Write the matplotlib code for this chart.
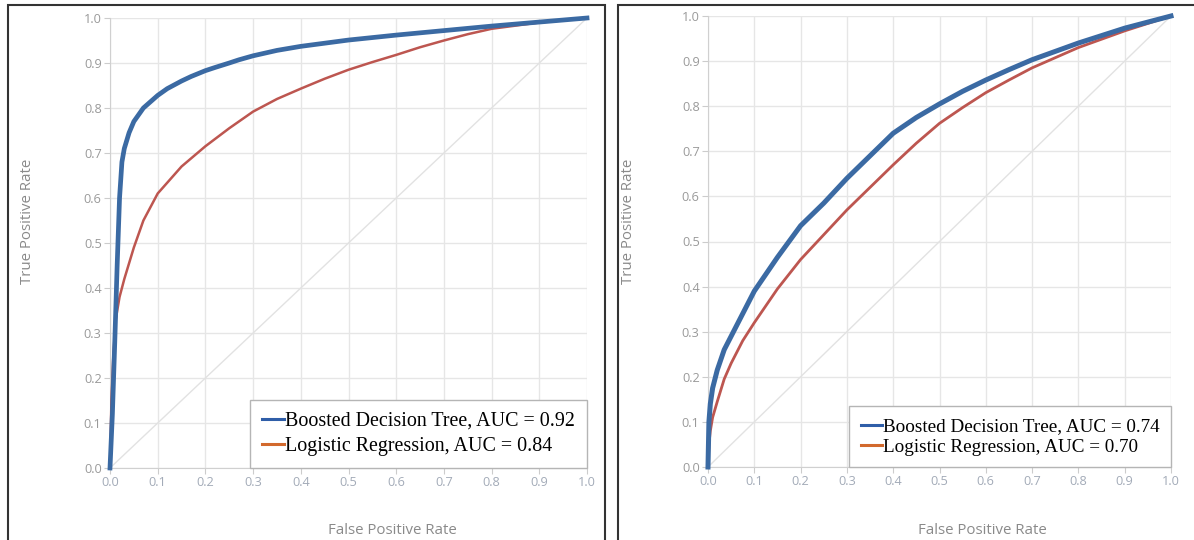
import matplotlib.pyplot as plt
from matplotlib.patches import Rectangle
from matplotlib.lines import Line2D

# ROC points (false positive rate, true positive rate)
left_bdt_fpr = [0.0, 0.005, 0.01, 0.015, 0.02, 0.025, 0.03, 0.04, 0.05, 0.07, 0.1, 0.12, 0.15, 0.17, 0.2, 0.22, 0.25, 0.27, 0.3, 0.35, 0.4, 0.45, 0.5, 0.6, 0.7, 0.8, 0.9, 1.0]
left_bdt_tpr = [0.0, 0.12, 0.28, 0.45, 0.6, 0.68, 0.71, 0.745, 0.77, 0.8, 0.828, 0.843, 0.86, 0.87, 0.883, 0.89, 0.9, 0.907, 0.916, 0.928, 0.937, 0.944, 0.951, 0.962, 0.972, 0.982, 0.991, 1.0]
left_lr_fpr = [0.0, 0.003, 0.007, 0.012, 0.02, 0.03, 0.05, 0.07, 0.1, 0.15, 0.2, 0.25, 0.3, 0.35, 0.4, 0.45, 0.5, 0.55, 0.6, 0.65, 0.7, 0.75, 0.8, 0.9, 1.0]
left_lr_tpr = [0.0, 0.15, 0.25, 0.33, 0.38, 0.42, 0.49, 0.55, 0.61, 0.67, 0.715, 0.755, 0.792, 0.82, 0.843, 0.865, 0.885, 0.902, 0.918, 0.935, 0.95, 0.964, 0.976, 0.99, 1.0]

right_bdt_fpr = [0.0, 0.002, 0.005, 0.01, 0.02, 0.035, 0.05, 0.075, 0.1, 0.15, 0.2, 0.25, 0.3, 0.35, 0.4, 0.45, 0.5, 0.55, 0.6, 0.65, 0.7, 0.8, 0.9, 1.0]
right_bdt_tpr = [0.0, 0.1, 0.14, 0.175, 0.215, 0.26, 0.29, 0.34, 0.39, 0.465, 0.535, 0.585, 0.64, 0.69, 0.74, 0.775, 0.805, 0.833, 0.858, 0.881, 0.903, 0.94, 0.973, 1.0]
right_lr_fpr = [0.0, 0.002, 0.005, 0.01, 0.02, 0.035, 0.05, 0.075, 0.1, 0.15, 0.2, 0.25, 0.3, 0.35, 0.4, 0.45, 0.5, 0.55, 0.6, 0.65, 0.7, 0.8, 0.9, 1.0]
right_lr_tpr = [0.0, 0.05, 0.08, 0.11, 0.145, 0.195, 0.23, 0.28, 0.32, 0.395, 0.46, 0.515, 0.57, 0.62, 0.67, 0.718, 0.762, 0.797, 0.83, 0.858, 0.885, 0.93, 0.967, 1.0]

ticks = [0.0, 0.1, 0.2, 0.3, 0.4, 0.5, 0.6, 0.7, 0.8, 0.9, 1.0]
tick_labels = ["0.0", "0.1", "0.2", "0.3", "0.4", "0.5", "0.6", "0.7", "0.8", "0.9", "1.0"]
labels_left = ["Boosted Decision Tree, AUC = 0.92", "Logistic Regression, AUC = 0.84"]
labels_right = ["Boosted Decision Tree, AUC = 0.74", "Logistic Regression, AUC = 0.70"]

blue = "#3b6aa3"
red = "#bd5650"
leg_blue = "#2f5ea8"
leg_orange = "#d2692d"

W, H = 1194, 540
fig = plt.figure(figsize=(W / 100, H / 100), dpi=100)

# panel frames
fig.patches.append(Rectangle((8 / W, -0.1), 597 / W, 1.1 - 5 / H, transform=fig.transFigure,
                             fill=False, edgecolor="#333333", linewidth=1.5))
fig.patches.append(Rectangle((618 / W, -0.1), 0.6, 1.1 - 5 / H, transform=fig.transFigure,
                             fill=False, edgecolor="#333333", linewidth=1.5))


def roc_panel(rect, bdt_x, bdt_y, lr_x, lr_y, labels, bdt_lw, lr_lw, fsize, lspace):
    ax = fig.add_axes(rect)
    ax.set_xlim(0, 1)
    ax.set_ylim(0, 1)
    ax.set_xticks(ticks)
    ax.set_yticks(ticks)
    ax.set_xticklabels(tick_labels, fontsize=9.2, color="#a3abb8", family="Open Sans")
    ax.set_yticklabels(tick_labels, fontsize=9.2, color="#9a9a9a", family="Open Sans")
    ax.tick_params(length=4, color="#cccccc", pad=2)
    ax.grid(True, color="#e6e6e6", linewidth=1)
    ax.set_axisbelow(True)
    for s in ["top", "right"]:
        ax.spines[s].set_visible(False)
    for s in ["left", "bottom"]:
        ax.spines[s].set_color("#d0d0d0")
    ax.plot([0, 1], [0, 1], color="#e2e2e2", linewidth=1)
    ax.plot(lr_x, lr_y, color=red, linewidth=lr_lw, clip_on=False, zorder=3)
    ax.plot(bdt_x, bdt_y, color=blue, linewidth=bdt_lw, clip_on=False, zorder=4)
    handles = [Line2D([], [], color=leg_blue, linewidth=2.2),
               Line2D([], [], color=leg_orange, linewidth=2.2)]
    leg = ax.legend(handles, labels, loc="lower right", bbox_to_anchor=(1.0, 0.0),
                    borderaxespad=0, fancybox=False, framealpha=1, edgecolor="#b5b5b5",
                    prop={"family": "Liberation Serif", "size": fsize},
                    handlelength=1.1, handletextpad=0.05, labelspacing=lspace, borderpad=0.6)
    leg.get_frame().set_linewidth(1)
    return ax


roc_panel([110 / W, 1 - 468 / H, 477 / W, 450 / H], left_bdt_fpr, left_bdt_tpr,
          left_lr_fpr, left_lr_tpr, labels_left, 3.4, 1.8, 14.4, 0.3)
roc_panel([708 / W, 1 - 467 / H, 463 / W, 451 / H], right_bdt_fpr, right_bdt_tpr,
          right_lr_fpr, right_lr_tpr, labels_right, 3.6, 2.0, 13.8, 0.15)

label_font = dict(fontsize=10.8, color="#8a8a8a", family="Open Sans")
fig.text(392 / W, 1 - 530 / H, "False Positive Rate", ha="center", va="center", **label_font)
fig.text(982 / W, 1 - 530 / H, "False Positive Rate", ha="center", va="center", **label_font)
fig.text(28 / W, 1 - 221 / H, "True Positive Rate", ha="center", va="center", rotation=90, **label_font)
fig.text(629 / W, 1 - 221 / H, "True Positive Rate", ha="center", va="center", rotation=90, **label_font)

fig.savefig("out.png", dpi=100)
